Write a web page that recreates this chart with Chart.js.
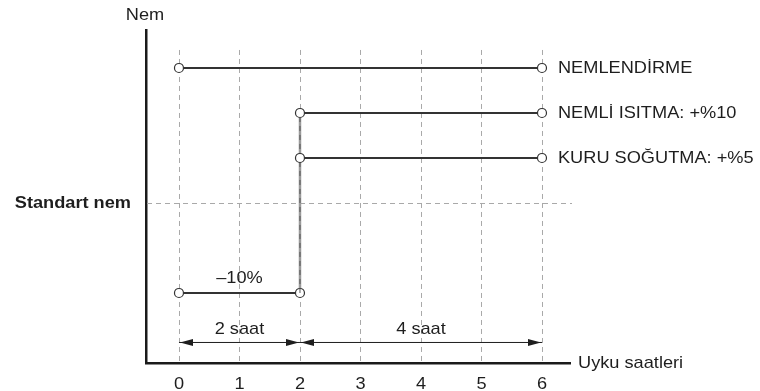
<!DOCTYPE html>
<html>
<head>
<meta charset="utf-8">
<script src="https://cdn.jsdelivr.net/npm/chart.js@4"></script>
<style>
  html, body { margin: 0; background: #fff; }
  #wrap { width: 760px; height: 391px; }
</style>
</head>
<body>
<div id="wrap"><canvas id="c"></canvas></div>
<script>
// ── Data ──────────────────────────────────────────────────────────────────
// Humidity relative to the standard level (%), against hours of sleep.
const hours      = [0, 1, 2, 3, 4, 5, 6];
const hourLabels = ['0', '1', '2', '3', '4', '5', '6'];

const standardNem = 0;

const nemlendirmeX = [0, 6];
const nemlendirmeY = [15, 15];

const nemliIsitmaX = [0, 2, 2, 6];
const nemliIsitmaY = [-10, -10, 10, 10];

const kuruSogutmaX = [2, 6];
const kuruSogutmaY = [5, 5];

const seriesNames = ['NEMLENDİRME', 'NEMLİ ISITMA: +%10', 'KURU SOĞUTMA: +%5'];
const dropLabel   = '–10%';

// duration brackets under the curves
const spanFrom   = [0, 2];
const spanTo     = [2, 6];
const spanLabels = ['2 saat', '4 saat'];
const spanLevel  = -15.5;

const yTitle   = 'Nem';
const xTitle   = 'Uyku saatleri';
const refTitle = 'Standart nem';

// ── Helpers ───────────────────────────────────────────────────────────────
const pts = (xs, ys) => xs.map((x, i) => ({ x, y: ys[i] }));
const INK = '#1e1e1e';
const FONT = '"Liberation Sans", Arial, Helvetica, sans-serif';
const STRETCH = 1.07;   // the reference type is a touch wide

function text(ctx, s, px, py, align, bold) {
  ctx.save();
  ctx.font = (bold ? 'bold ' : '') + '17px ' + FONT;
  ctx.fillStyle = INK;
  ctx.textBaseline = 'middle';
  ctx.textAlign = align;
  ctx.translate(px, py);
  ctx.scale(STRETCH, 1);
  ctx.fillText(s, 0, 0);
  ctx.restore();
}

function arrowHead(ctx, tipX, py, dir) {
  const len = 13, half = 3.5;
  ctx.beginPath();
  ctx.moveTo(tipX, py);
  ctx.lineTo(tipX - dir * len, py - half);
  ctx.lineTo(tipX - dir * len, py + half);
  ctx.closePath();
  ctx.fill();
}

const lineStyle = {
  borderColor: '#333',
  borderWidth: 2,
  pointRadius: 4.5,
  pointBackgroundColor: '#fff',
  pointBorderColor: '#333',
  pointBorderWidth: 1.2,
  fill: false,
  tension: 0,
};

// ── Overlay: dashed guides, brackets, annotations ────────────────────────
const overlay = {
  id: 'overlay',
  beforeDatasetsDraw(chart) {
    const { ctx, chartArea: a, scales: { x, y } } = chart;
    ctx.save();
    ctx.strokeStyle = '#a9a9a9';
    ctx.lineWidth = 1;
    ctx.setLineDash([5, 4]);
    const top = y.getPixelForValue(17);
    hours.forEach(h => {
      const px = Math.round(x.getPixelForValue(h)) + 0.5;
      ctx.beginPath(); ctx.moveTo(px, top); ctx.lineTo(px, a.bottom); ctx.stroke();
    });
    const sy = Math.round(y.getPixelForValue(standardNem)) + 0.5;
    ctx.beginPath(); ctx.moveTo(a.left + 1, sy); ctx.lineTo(a.right + 2, sy); ctx.stroke();
    ctx.restore();
  },
  afterDatasetsDraw(chart) {
    const { ctx, chartArea: a, scales: { x, y } } = chart;
    ctx.save();
    ctx.fillStyle = INK;
    const ay = y.getPixelForValue(spanLevel);
    spanFrom.forEach((f, i) => {
      const x0 = x.getPixelForValue(f), x1 = x.getPixelForValue(spanTo[i]);
      arrowHead(ctx, x0 + 1, ay, -1);
      arrowHead(ctx, x1 - 1, ay, 1);
      text(ctx, spanLabels[i], (x0 + x1) / 2, ay - 13, 'center');
    });
    ctx.restore();

    // series names at the right ends
    const endX = x.getPixelForValue(6) + 16;
    text(ctx, seriesNames[0], endX, y.getPixelForValue(nemlendirmeY[1]), 'left');
    text(ctx, seriesNames[1], endX, y.getPixelForValue(nemliIsitmaY[3]), 'left');
    text(ctx, seriesNames[2], endX, y.getPixelForValue(kuruSogutmaY[1]), 'left');

    text(ctx, dropLabel, x.getPixelForValue(1), y.getPixelForValue(nemliIsitmaY[0]) - 15, 'center');
    text(ctx, refTitle, a.left - 15, y.getPixelForValue(standardNem), 'right', true);
    text(ctx, yTitle, a.left - 1, a.top - 15, 'center');
    text(ctx, xTitle, a.right + 8, a.bottom, 'left');

    hours.forEach((h, i) => text(ctx, hourLabels[i], x.getPixelForValue(h), a.bottom + 21, 'center'));
  }
};

new Chart(document.getElementById('c'), {
  type: 'line',
  data: {
    datasets: [
      { ...lineStyle, data: pts(nemlendirmeX, nemlendirmeY) },
      { ...lineStyle, data: pts(kuruSogutmaX, kuruSogutmaY) },
      // dark dashes over the grey riser at 2 h
      { data: pts([2, 2], [nemliIsitmaY[1], nemliIsitmaY[2]]), borderColor: '#555',
        borderWidth: 1, borderDash: [5, 4], pointRadius: 0 },
      { ...lineStyle, data: pts(nemliIsitmaX, nemliIsitmaY),
        segment: { borderColor: c => c.p0.parsed.x === c.p1.parsed.x ? '#9a9a9a' : undefined,
                   borderWidth: c => c.p0.parsed.x === c.p1.parsed.x ? 2.5 : undefined } },
      // bracket shafts
      ...spanFrom.map((f, i) => ({
        data: pts([f, spanTo[i]], [spanLevel, spanLevel]),
        borderColor: INK, borderWidth: 1, pointRadius: 0,
      })),
    ]
  },
  options: {
    responsive: true, maintainAspectRatio: false, animation: false,
    layout: { padding: { left: 146, right: 190, top: 30, bottom: 28 } },
    plugins: { legend: { display: false }, tooltip: { enabled: false } },
    scales: {
      x: {
        type: 'linear', min: -0.545, max: 6.463,
        ticks: { display: false },
        grid: { display: false, drawTicks: false },
        border: { color: '#1a1a1a', width: 2.5 },
      },
      y: {
        min: -17.78, max: 19.22,
        ticks: { display: false },
        grid: { display: false, drawTicks: false },
        border: { color: '#1a1a1a', width: 2.5 },
      }
    }
  },
  plugins: [overlay]
});
</script>
</body>
</html>
